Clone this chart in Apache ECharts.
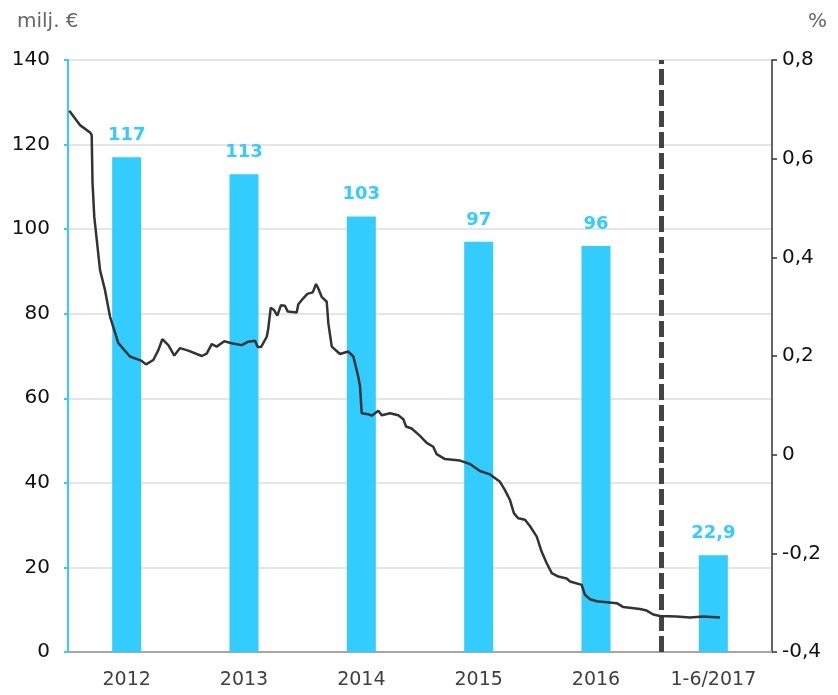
<!DOCTYPE html>
<html>
<head>
<meta charset="utf-8">
<script src="https://cdn.jsdelivr.net/npm/echarts@6/dist/echarts.min.js"></script>
<style>
    html, body { margin: 0; padding: 0; background: #fff; }
    #chart { width: 838px; height: 695px; }
</style>
</head>
<body>
<div id="chart"></div>
<script>
// categories and bar values (milj. €)
const categories = ['2012', '2013', '2014', '2015', '2016', '1-6/2017']
const amounts = [117, 113, 103, 97, 96, 22.9]

// interest rate line (%), x as decimal year
const rateDates = [
    2012.011, 2012.102, 2012.188, 2012.202, 2012.209, 2012.224, 2012.273, 2012.315, 2012.358, 2012.429,
    2012.528, 2012.628, 2012.665, 2012.727, 2012.770, 2012.804, 2012.855, 2012.906, 2012.955, 2013.025,
    2013.140, 2013.182, 2013.225, 2013.267, 2013.332, 2013.395, 2013.480, 2013.537, 2013.594, 2013.617,
    2013.645, 2013.694, 2013.707, 2013.728, 2013.756, 2013.784, 2013.815, 2013.849, 2013.873, 2013.949,
    2013.963, 2014.005, 2014.040, 2014.086, 2014.114, 2014.133, 2014.162, 2014.205, 2014.219, 2014.248,
    2014.318, 2014.389, 2014.432, 2014.474, 2014.489, 2014.503, 2014.559, 2014.588, 2014.645, 2014.674,
    2014.744, 2014.815, 2014.858, 2014.881, 2014.929, 2015.000, 2015.057, 2015.113, 2015.142, 2015.213,
    2015.341, 2015.426, 2015.511, 2015.597, 2015.682, 2015.724, 2015.767, 2015.801, 2015.838, 2015.895,
    2015.938, 2015.995, 2016.037, 2016.080, 2016.123, 2016.179, 2016.250, 2016.279, 2016.378, 2016.406,
    2016.449, 2016.506, 2016.591, 2016.677, 2016.733, 2016.875, 2016.932, 2016.988, 2017.046, 2017.188,
    2017.301, 2017.415, 2017.557
]
const rateValues = [
    0.697, 0.668, 0.653, 0.648, 0.551, 0.482, 0.374, 0.334, 0.280, 0.226,
    0.199, 0.190, 0.183, 0.192, 0.212, 0.234, 0.222, 0.201, 0.216, 0.211,
    0.200, 0.205, 0.224, 0.219, 0.230, 0.226, 0.222, 0.229, 0.231, 0.218,
    0.218, 0.239, 0.256, 0.298, 0.293, 0.282, 0.303, 0.302, 0.290, 0.288,
    0.305, 0.317, 0.326, 0.329, 0.346, 0.337, 0.320, 0.310, 0.266, 0.219,
    0.204, 0.209, 0.199, 0.158, 0.138, 0.084, 0.082, 0.079, 0.089, 0.080,
    0.084, 0.080, 0.072, 0.057, 0.053, 0.038, 0.024, 0.016, 0.001, -0.009,
    -0.012, -0.019, -0.033, -0.040, -0.055, -0.072, -0.092, -0.119, -0.129, -0.132,
    -0.145, -0.166, -0.197, -0.220, -0.240, -0.247, -0.251, -0.257, -0.264, -0.284,
    -0.293, -0.297, -0.299, -0.301, -0.309, -0.313, -0.316, -0.324, -0.327, -0.328,
    -0.330, -0.328, -0.330
]

// dashed separator position
const separatorDate = 2017.063

const myChart = echarts.init(document.getElementById('chart'))

const fontFamily = 'DejaVu Sans, Verdana, sans-serif'
const barColor = '#33ccff'

let option = {
    backgroundColor: '#fff',
    animation: false,
    textStyle: { fontFamily },
    title: [
        {
            text: 'milj. €',
            left: 12,
            top: 7,
            textStyle: { color: '#666', fontSize: 20, fontWeight: 'normal', fontFamily }
        },
        {
            text: '%',
            right: 6,
            top: 7,
            textStyle: { color: '#666', fontSize: 20, fontWeight: 'normal', fontFamily }
        }
    ],
    grid: {
        left: 68,
        right: 66,
        top: 60,
        bottom: 43
    },
    xAxis: [
        {
            type: 'category',
            data: categories,
            axisTick: { show: false },
            axisLine: { lineStyle: { color: '#a6a6a6', width: 2 } },
            axisLabel: { color: '#404040', fontSize: 19, margin: 19, interval: 0, hideOverlap: false, fontFamily }
        },
        {
            type: 'value',
            min: 2012,
            max: 2018,
            show: false
        }
    ],
    yAxis: [
        {
            type: 'value',
            min: 0,
            max: 140,
            interval: 20,
            axisLine: { show: true, lineStyle: { color: barColor, width: 2 } },
            axisTick: { show: true, length: 4, lineStyle: { color: barColor, width: 2 } },
            axisLabel: { color: '#111', fontSize: 20, margin: 18, fontFamily },
            splitLine: { lineStyle: { color: '#dcdcdc', width: 1.5 } }
        },
        {
            type: 'value',
            min: -0.4,
            max: 0.8,
            interval: 0.2,
            position: 'right',
            axisLine: { show: true, lineStyle: { color: '#333', width: 1.5 } },
            axisTick: { show: true, length: 5, lineStyle: { color: '#333', width: 1.5 } },
            axisLabel: {
                color: '#111',
                fontSize: 20,
                margin: 10,
                fontFamily,
                formatter: v => String(+v.toFixed(1)).replace('.', ',')
            },
            splitLine: { show: false }
        }
    ],
    series: [
        {
            name: 'milj. €',
            type: 'bar',
            data: amounts,
            barWidth: 29,
            itemStyle: { color: barColor },
            label: {
                show: true,
                position: 'top',
                distance: 13,
                color: barColor,
                fontSize: 18,
                fontWeight: 'bold',
                fontFamily,
                formatter: p => String(p.value).replace('.', ',')
            }
        },
        {
            name: '%',
            type: 'line',
            xAxisIndex: 1,
            yAxisIndex: 1,
            data: rateDates.map((d, i) => [d, rateValues[i]]),
            showSymbol: false,
            lineStyle: { color: '#333', width: 2.5 },
            z: 5,
            markLine: {
                silent: true,
                symbol: 'none',
                label: { show: false },
                lineStyle: { color: '#444', type: [16, 5], width: 5, opacity: 1 },
                data: [{ xAxis: separatorDate }]
            }
        }
    ]
}

myChart.setOption(option)
</script>
</body>
</html>
